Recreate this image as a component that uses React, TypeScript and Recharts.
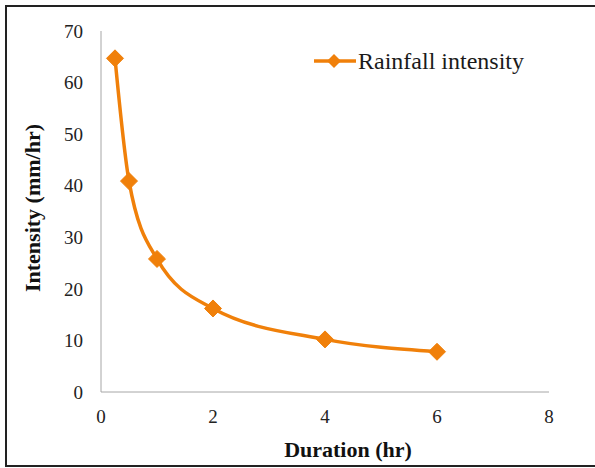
import React from 'react';
import { LineChart, Line, XAxis, YAxis, Label } from 'recharts';

// Rainfall duration (hr) and corresponding intensity (mm/hr)
const durations = [0.25, 0.5, 1, 2, 4, 6];
const intensities = [64.7, 40.9, 25.8, 16.2, 10.2, 7.8];
const xTicks = [0, 2, 4, 6, 8];
const yTicks = [0, 10, 20, 30, 40, 50, 60, 70];
const seriesName = 'Rainfall intensity';

const data = durations.map((d, i) => ({ duration: d, intensity: intensities[i] }));

const ORANGE = '#F0800A';
const AXIS = '#A6A6A6';
const FONT = '"Liberation Serif", "Times New Roman", serif';

const Diamond = (props: any) => {
  const { cx, cy, index } = props;
  if (cx == null || cy == null) return <g key={`d-${index}`} />;
  const r = 8.5;
  return (
    <path
      key={`d-${index}`}
      d={`M${cx},${cy - r} L${cx + r},${cy} L${cx},${cy + r} L${cx - r},${cy} Z`}
      fill={ORANGE}
      stroke={ORANGE}
      strokeWidth={1}
      strokeLinejoin="round"
    />
  );
};

const XTick = (props: any) => {
  const { x, y, payload } = props;
  return (
    <text x={x} y={y} dy="0.71em" textAnchor="middle" fontFamily={FONT} fontSize={19} fill="#222">
      {payload.value}
    </text>
  );
};

const YTick = (props: any) => {
  const { x, y, payload } = props;
  return (
    <text x={x} y={y} dy="0.355em" textAnchor="end" fontFamily={FONT} fontSize={19} fill="#222">
      {payload.value}
    </text>
  );
};

const LegendBox = () => (
  <div
    style={{
      position: 'absolute',
      left: 313,
      top: 49,
      display: 'flex',
      alignItems: 'center',
      fontFamily: FONT,
    }}
  >
    <svg width={44} height={20} style={{ display: 'block' }}>
      <line x1={1} y1={10} x2={43} y2={10} stroke={ORANGE} strokeWidth={3.5} />
      <path d="M21,3 L28,10 L21,17 L14,10 Z" fill={ORANGE} />
    </svg>
    <span style={{ fontSize: 24, color: '#1a1a1a', marginLeft: 1, lineHeight: '24px' }}>
      {seriesName}
    </span>
  </div>
);

export default function App() {
  return (
    <div
      style={{
        position: 'absolute',
        left: 0,
        top: 0,
        width: 595,
        height: 468,
        overflow: 'hidden',
        background: '#fff',
        fontFamily: FONT,
      }}
    >
      <div
        style={{
          position: 'absolute',
          left: 5,
          top: 5,
          width: 620,
          height: 462,
          border: '2px solid #222',
          boxSizing: 'border-box',
        }}
      />
      <div style={{ position: 'absolute', left: 0, top: 0 }}>
        <LineChart
          width={595}
          height={468}
          data={data}
          margin={{ top: 31, right: 46, bottom: 46, left: 41 }}
        >
          <XAxis
            dataKey="duration"
            type="number"
            domain={[0, 8]}
            ticks={xTicks}
            tickLine={false}
            tickSize={6}
            tickMargin={12}
            axisLine={{ stroke: AXIS, strokeWidth: 1 }}
            tick={XTick}
            height={30}
          >
            <Label
              content={() => (
                <text
                  x={348}
                  y={457}
                  textAnchor="middle"
                  fontFamily={FONT}
                  fontWeight="bold"
                  fontSize={22}
                  fill="#111"
                >
                  Duration (hr)
                </text>
              )}
            />
          </XAxis>
          <YAxis
            dataKey="intensity"
            type="number"
            domain={[0, 70]}
            ticks={yTicks}
            tickLine={false}
            tickSize={6}
            tickMargin={12}
            axisLine={{ stroke: AXIS, strokeWidth: 1 }}
            tick={YTick}
            width={60}
          >
            <Label
              content={() => (
                <text
                  x={40}
                  y={208}
                  textAnchor="middle"
                  transform="rotate(-90, 40, 208)"
                  fontFamily={FONT}
                  fontWeight="bold"
                  fontSize={22}
                  fill="#111"
                >
                  Intensity (mm/hr)
                </text>
              )}
            />
          </YAxis>
          <Line
            dataKey="intensity"
            name={seriesName}
            type="monotone"
            stroke={ORANGE}
            strokeWidth={3.5}
            dot={Diamond}
            activeDot={false}
            isAnimationActive={false}
          />
        </LineChart>
      </div>
      <LegendBox />
    </div>
  );
}
